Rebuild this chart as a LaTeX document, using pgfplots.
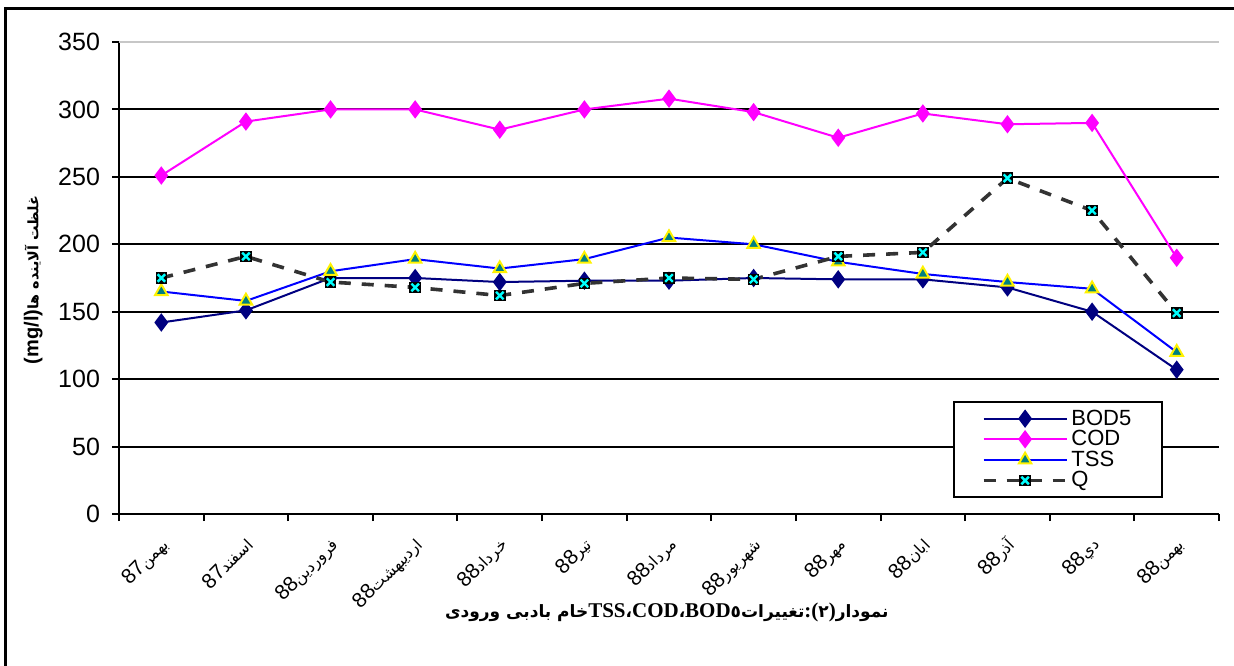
\documentclass[border=0pt]{standalone}
\usepackage{fontspec}
\setmainfont{Liberation Sans}
\newfontfamily\arabicfont[Script=Arabic]{DejaVu Sans}
\newfontfamily\timesfont{Liberation Serif}
\usepackage{pgfplots}
\pgfplotsset{compat=1.18}
\TeXXeTstate=1

\definecolor{bodc}{RGB}{0,0,128}
\definecolor{codc}{RGB}{255,0,255}
\definecolor{tssc}{RGB}{0,0,255}
\definecolor{tssf}{RGB}{0,128,128}
\definecolor{qc}{RGB}{51,51,51}
\definecolor{qx}{RGB}{0,255,255}

\pgfdeclareplotmark{qbox}{%
  \pgfpathrectangle{\pgfqpoint{-\pgfplotmarksize}{-\pgfplotmarksize}}{\pgfqpoint{2\pgfplotmarksize}{2\pgfplotmarksize}}%
  \pgfsetfillcolor{black}\pgfusepath{fill}%
  \pgfsetstrokecolor{qx}\pgfsetlinewidth{1.2bp}\pgfsetbuttcap
  \pgfpathmoveto{\pgfqpoint{-0.65\pgfplotmarksize}{-0.65\pgfplotmarksize}}%
  \pgfpathlineto{\pgfqpoint{0.65\pgfplotmarksize}{0.65\pgfplotmarksize}}%
  \pgfpathmoveto{\pgfqpoint{-0.65\pgfplotmarksize}{0.65\pgfplotmarksize}}%
  \pgfpathlineto{\pgfqpoint{0.65\pgfplotmarksize}{-0.65\pgfplotmarksize}}%
  \pgfusepath{stroke}}

\newcommand{\xl}[2]{{\fontsize{10.5bp}{11bp}\selectfont #1}{\arabicfont\fontsize{8bp}{11bp}\selectfont #2}}
\newcommand{\capar}{\arabicfont\bfseries\fontsize{8.5bp}{10bp}\selectfont}
\newcommand{\capla}{\timesfont\bfseries\fontsize{10.5bp}{10bp}\selectfont}

\begin{document}
\begin{tikzpicture}
\path[use as bounding box] (-59.5bp,-76bp) rectangle (557.5bp,257bp);
\draw[line width=1.5bp] (-56.5bp,-77bp) -- (-56.5bp,252.5bp) -- (558bp,252.5bp);
\begin{axis}[
  at={(0,0)}, anchor=south west,
  scale only axis, width=550bp, height=236bp,
  xmin=-0.5, xmax=12.5, ymin=0, ymax=350,
  axis lines=left,
  axis line style={-, line width=1bp, black},
  xtick={0,...,12},
  xticklabels={\xl{87}{بهمن},\xl{87}{اسفند},\xl{88}{فروردين},\xl{88}{ارديبهشت},\xl{88}{خرداد},\xl{88}{تير},\xl{88}{مرداد},\xl{88}{شهريور},\xl{88}{مهر},\xl{88}{ابان},\xl{88}{آذر},\xl{88}{دي},\xl{88}{بهمن}},
  minor xtick={-0.5,0.5,...,12.5},
  ytick={0,50,...,300},
  minor ytick={0,50,...,350},
  extra y ticks={350},
  extra y tick style={grid style={color=black!22, line width=1bp}},
  major tick length=0pt, minor tick length=3.5bp,
  tick align=outside,
  tick style={black, line width=1bp},
  ymajorgrids, grid style={black, line width=1bp},
  /pgf/number format/assume math mode=true,
  yticklabel style={font=\fontsize{12.5bp}{12bp}\selectfont, xshift=-6bp},
  xticklabel style={rotate=45, anchor=north east, inner sep=1bp, xshift=-7.1bp, yshift=-5.7bp},
  xlabel={\mbox{\capar\beginR خام بادبی ورودی\endR}\mbox{\capla TSS}\mbox{\capar ،}\mbox{\capla COD}\mbox{\capar ،}\mbox{\capla BOD}\mbox{\capar ٥}\mbox{\capar تغییرات}\mbox{\capla :}\mbox{\capla (}\mbox{\capar ٢}\mbox{\capla )}\mbox{\capar نمودار}},
  every axis x label/.style={at={(axis description cs:0.498,-0.208)}, anchor=center},
  ylabel={{\bfseries\fontsize{10bp}{10bp}\selectfont (mg/l)}{\arabicfont\bfseries\fontsize{7.2bp}{10bp}\selectfont\beginR غلظت آلاینده ها\endR}},
  every axis y label/.style={at={(axis description cs:-0.078,0.496)}, rotate=90, anchor=center},
  legend style={at={(rel axis cs:0.758,0.034)}, anchor=south west, draw=black, line width=1bp, fill=white,
    font=\fontsize{11bp}{11bp}\selectfont, inner xsep=14bp, inner ysep=2bp, row sep=-2.2bp,
    nodes={inner sep=1.5bp, text height=8bp, text depth=1.5bp}},
  legend cell align=left,
  legend image code/.code={\draw[mark repeat=2,mark phase=2,#1] plot coordinates {(0bp,0bp) (20.75bp,0bp) (41.5bp,0bp)};},
]
\addplot[bodc, line width=1bp, mark=diamond*, mark size=3.8bp, mark options={solid, fill=bodc, draw=bodc}]
  coordinates {(0,142) (1,151) (2,175) (3,175) (4,172) (5,173) (6,173) (7,175) (8,174) (9,174) (10,168) (11,150) (12,107)};
\addlegendentry{BOD5}
\addplot[codc, line width=1bp, mark=diamond*, mark size=3.8bp, mark options={solid, fill=codc, draw=codc}]
  coordinates {(0,251) (1,291) (2,300) (3,300) (4,285) (5,300) (6,308) (7,298) (8,279) (9,297) (10,289) (11,290) (12,190)};
\addlegendentry{COD}
\addplot[tssc, line width=1bp, mark=triangle*, mark size=3.6bp, mark options={solid, fill=tssf, draw=yellow, line width=1bp}]
  coordinates {(0,165) (1,158) (2,180) (3,189) (4,182) (5,189) (6,205) (7,200) (8,187) (9,178) (10,172) (11,167) (12,120)};
\addlegendentry{TSS}
\addplot[qc, line width=1.8bp, dash pattern=on 6bp off 5.5bp, mark=qbox, mark size=2.9bp, mark options={solid}]
  coordinates {(0,175) (1,191) (2,172) (3,168) (4,162) (5,171) (6,175) (7,174) (8,191) (9,194) (10,249) (11,225) (12,149)};
\addlegendentry{Q}
\end{axis}
\end{tikzpicture}
\end{document}
